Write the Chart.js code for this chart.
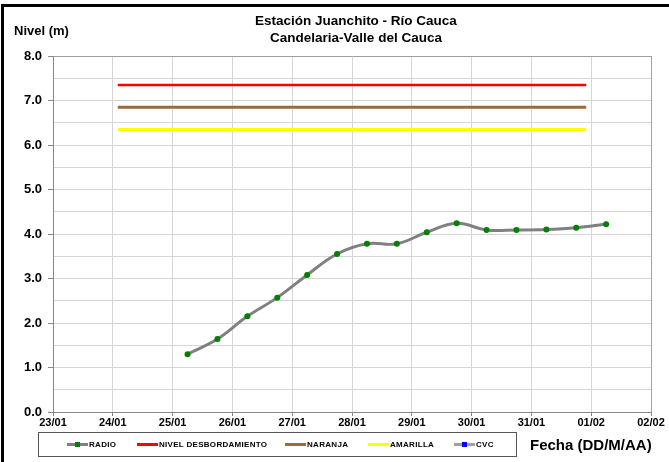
<!DOCTYPE html>
<html>
<head>
<meta charset="utf-8">
<script src="https://cdn.jsdelivr.net/npm/chart.js@4"></script>
<style>
  body { margin: 0; background: #fff; font-family: "Liberation Sans", Arial, sans-serif; }
  #wrap { position: relative; width: 669px; height: 462px; overflow: hidden; }
  #frame { position: absolute; left: 1px; top: 4px; width: 700px; height: 500px;
           border-left: 3px solid #000; border-top: 3px solid #000; }
  canvas { position: absolute; left: 0; top: 0; }
  .txt { position: absolute; font-weight: bold; color: #000; white-space: nowrap; }
  #title { left: 156px; width: 400px; top: 12px; text-align: center; font-size: 13.5px; line-height: 17px; }
  #ylab { left: 14px; top: 23px; font-size: 13px; }
  #xlab { left: 530px; top: 436px; font-size: 15px; }
  #legend { position: absolute; left: 38px; top: 432px; width: 477px; height: 23px;
            border: 1px solid #555; }
  .item { position: absolute; top: 0; height: 23px; display: flex; align-items: center;
          font-size: 8px; font-weight: bold; letter-spacing: 0.3px; }
  .sw { position: relative; width: 21px; height: 3px; margin-right: 1px; }
  .dot { position: absolute; left: 8px; top: -1px; width: 5px; height: 5px; }
</style>
</head>
<body>
<div id="wrap">
  <canvas id="chart" width="669" height="462"></canvas>
  <div id="frame"></div>
  <div id="title" class="txt">Estación Juanchito - Río Cauca<br>Candelaria-Valle del Cauca</div>
  <div id="ylab" class="txt">Nivel (m)</div>
  <div id="xlab" class="txt">Fecha (DD/M/AA)</div>
  <div id="legend"></div>
</div>
<script>
// dates on the x axis
const dayLabels = ["23/01", "24/01", "25/01", "26/01", "27/01", "28/01", "29/01", "30/01", "31/01", "01/02", "02/02"];

// RADIO readings
const radioTimes = ["25/01 06:00", "25/01 18:00", "26/01 06:00", "26/01 18:00", "27/01 06:00", "27/01 18:00",
                    "28/01 06:00", "28/01 18:00", "29/01 06:00", "29/01 18:00", "30/01 06:00", "30/01 18:00",
                    "31/01 06:00", "31/01 18:00", "01/02 06:00"];
const radioLevels = [1.30, 1.64, 2.15, 2.57, 3.08, 3.55, 3.78, 3.78, 4.04, 4.24, 4.09, 4.09, 4.10, 4.14, 4.22];

// alert levels, drawn across this time span
const alertTimes = ["24/01 02:00", "31/01 22:00"];
const desbordamiento = 7.35;
const naranja = 6.85;
const amarilla = 6.35;

// CVC series (no readings in this period)
const cvcTimes = [];
const cvcLevels = [];

// "DD/MM HH:MM" -> days since 23/01
function toDays(s) {
  const [d, t] = s.split(" ");
  const [dd, mm] = d.split("/").map(Number);
  const [hh, mi] = t.split(":").map(Number);
  const day = mm === 1 ? dd - 23 : dd + 31 - 23;
  return day + (hh + mi / 60) / 24;
}
const pts = (times, vals) => times.map((t, i) => ({ x: toDays(t), y: vals[i] }));
const flat = (v) => alertTimes.map(t => ({ x: toDays(t), y: v }));

const series = [
  { label: "RADIO", data: pts(radioTimes, radioLevels), color: "#808080", dot: "#008000", width: 3 },
  { label: "NIVEL DESBORDAMIENTO", data: flat(desbordamiento), color: "#FF0000", width: 2.5 },
  { label: "NARANJA", data: flat(naranja), color: "#9C6A3C", width: 3 },
  { label: "AMARILLA", data: flat(amarilla), color: "#FFFF00", width: 3 },
  { label: "CVC", data: pts(cvcTimes, cvcLevels), color: "#A0A0A0", dot: "#0000FF", width: 3 }
];

const ctx = document.getElementById("chart").getContext("2d");
new Chart(ctx, {
  type: "line",
  data: {
    datasets: series.map(s => ({
      label: s.label,
      data: s.data,
      borderColor: s.color,
      borderWidth: s.width,
      tension: s.dot ? 0.4 : 0,
      pointRadius: s.dot ? 3 : 0,
      pointBackgroundColor: s.dot,
      pointBorderWidth: 0
    }))
  },
  options: {
    responsive: false,
    animation: false,
    layout: { padding: { left: 0, top: 56, right: 18, bottom: 0 } },
    plugins: { legend: { display: false }, tooltip: { enabled: false } },
    scales: {
      x: {
        type: "linear", min: 0, max: 10,
        afterFit: (s) => { s.height = 50; },
        border: { color: "#888" },
        grid: {
          color: (c) => c.tick && c.tick.value === 10 ? "#a0a0a0" : "#d6d6d6",
          tickColor: "#888", tickLength: 4
        },
        ticks: {
          stepSize: 1, autoSkip: false, maxRotation: 0, padding: 0, color: "#000",
          font: { family: "Liberation Sans", size: 11, weight: "bold" },
          callback: (v) => dayLabels[v]
        }
      },
      y: {
        min: 0, max: 8,
        afterFit: (s) => { s.width = 53; },
        border: { color: "#888" },
        grid: {
          color: (c) => c.tick && c.tick.value === 8 ? "#a0a0a0" : "#d6d6d6",
          tickColor: (c) => Number.isInteger(c.tick.value) ? "#888" : "rgba(0,0,0,0)",
          tickLength: 5
        },
        ticks: {
          stepSize: 0.5, padding: 6, color: "#000",
          font: { family: "Liberation Sans", size: 13, weight: "bold" },
          callback: (v) => Number.isInteger(v) ? v.toFixed(1) : ""
        }
      }
    }
  }
});

// boxed legend under the plot
const legendX = [28, 98, 246, 329, 415];
const legend = document.getElementById("legend");
series.forEach((s, i) => {
  const it = document.createElement("div");
  it.className = "item";
  it.style.left = legendX[i] + "px";
  const sw = document.createElement("span");
  sw.className = "sw";
  sw.style.background = s.color;
  if (s.dot) {
    const d = document.createElement("span");
    d.className = "dot";
    d.style.background = s.dot;
    sw.appendChild(d);
  }
  it.appendChild(sw);
  it.appendChild(document.createTextNode(s.label));
  legend.appendChild(it);
});
</script>
</body>
</html>
